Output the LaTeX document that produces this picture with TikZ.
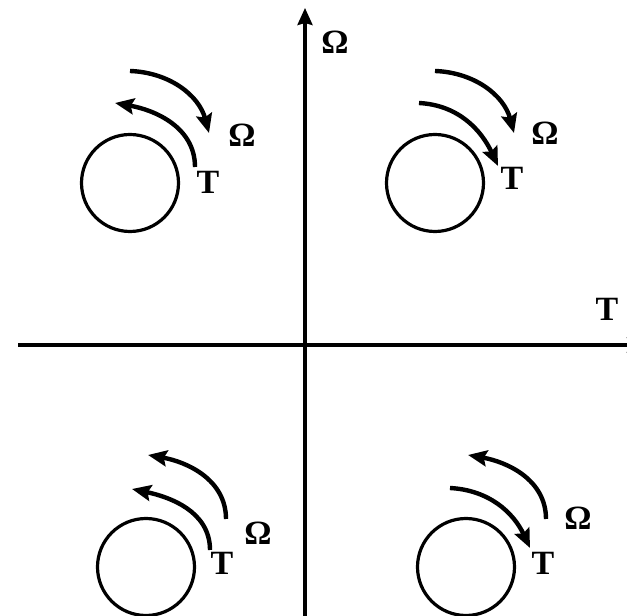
\documentclass[tikz,border=0pt]{standalone}
\usepackage{fontspec}
\setmainfont{Liberation Serif}
\usetikzlibrary{arrows.meta}
\begin{document}
\begin{tikzpicture}[x=1pt, y=1pt, line join=round, >={Stealth[length=19pt,width=16pt,inset=3pt]}]
			\tikzset{wheel/.style={line width=3.2pt},
				spin/.style={->, line width=4.4pt},
				axis/.style={->, line width=3.2pt, >={Stealth[length=17pt,width=15pt,inset=2pt]}},
				lblO/.style={font=\fontsize{34}{34}\selectfont\bfseries},
				lblT/.style={font=\fontsize{34}{34}\selectfont\bfseries}
			}
			\useasboundingbox (0,0) rectangle (627,616);
			% axes
			\draw[axis] (18,271)--(644,271);
			\draw[axis] (305,-5)--(305,608);
			\node[lblO] (om) at (335,574) {Ω};
			\node[lblT] (tq) at (607,307) {T};
			% wheels
			\foreach \cx/\cy in {130/433, 435/433, 146/49, 466/49}
				\draw[wheel] (\cx,\cy) circle (48.5);
			% top left
			\draw[spin] (130,545) to[out=-2,in=105] (209,483);
			\draw[spin] (195,449) to[out=90,in=-10] (115,513);
			\node[lblO] (om1) at (242,481) {Ω};
			\node[lblT] (tq1) at (208,434) {T};
			% top right
			\draw[spin] (435,545) to[out=-2,in=105] (514,483);
			\draw[spin] (419,513) to[out=-3,in=115] (498,450);
			\node[lblO] (om2) at (545,483) {Ω};
			\node[lblT] (tq2) at (512,438) {T};
			% bottom left
			\draw[spin] (226,97) to[out=90,in=-10] (148,161);
			\draw[spin] (210,66) to[out=90,in=-12] (132,127);
			\node[lblO] (om3) at (258,83) {Ω};
			\node[lblT] (tq3) at (222,53) {T};
			% bottom right
			\draw[spin] (546,97) to[out=90,in=-10] (468,161);
			\draw[spin] (450,128) to[out=-3,in=115] (530,68);
			\node[lblO] (om4) at (578,98) {Ω};
			\node[lblT] (tq4) at (543,53) {T};
		\end{tikzpicture}
\end{document}
